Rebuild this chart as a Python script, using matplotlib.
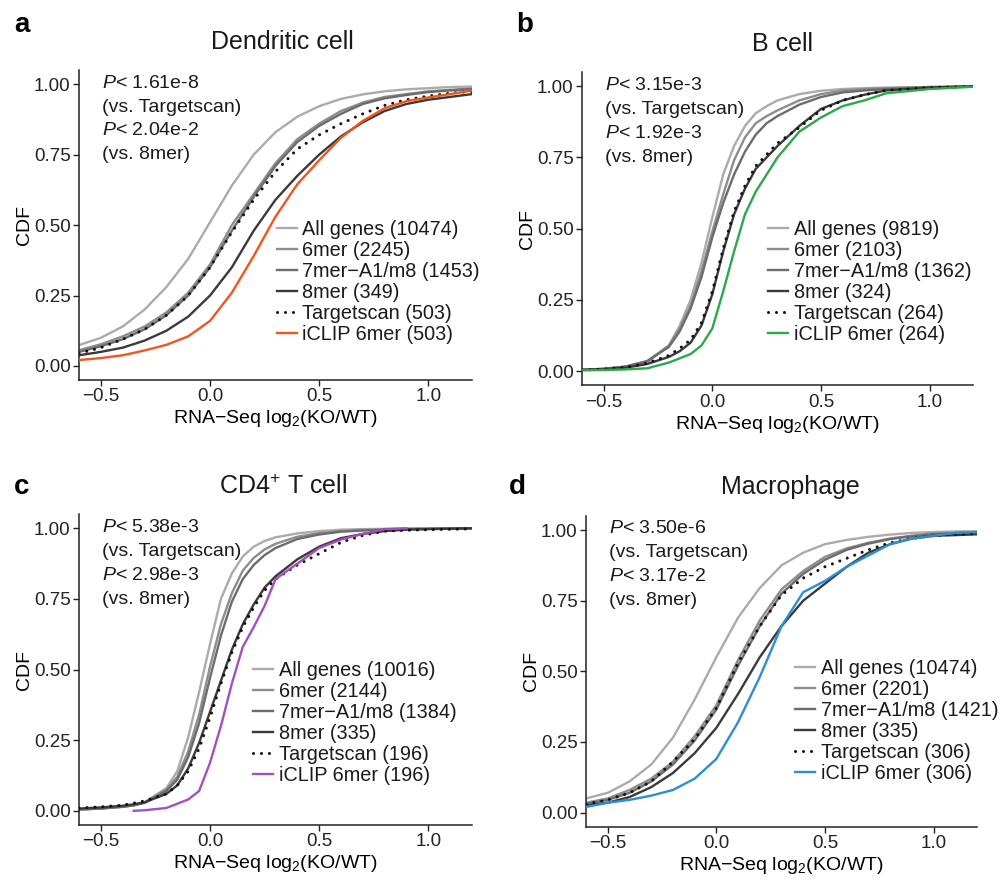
import numpy as np
import matplotlib
matplotlib.use('Agg')
import matplotlib.pyplot as plt

plt.rcParams['font.family'] = ['Liberation Sans', 'DejaVu Sans']
plt.rcParams['mathtext.fontset'] = 'custom'
plt.rcParams['mathtext.rm'] = 'Liberation Sans'
plt.rcParams['mathtext.it'] = 'Liberation Sans:italic'

# ---- data (CDF value at each x) ----
SERIES = ['All genes', '6mer', '7mer\u2212A1/m8', '8mer', 'Targetscan', 'iCLIP 6mer']

# a: dendritic cell
DC_X = [-0.6, -0.5, -0.4, -0.3, -0.2, -0.1, 0.0, 0.1, 0.2, 0.3, 0.4, 0.5, 0.6, 0.7, 0.8, 0.9, 1.0, 1.1, 1.2]
DC_ALL = [0.074, 0.10, 0.14, 0.20, 0.28, 0.38, 0.51, 0.64, 0.75, 0.83, 0.885, 0.922, 0.948, 0.964, 0.975, 0.982, 0.986, 0.99, 0.992]
DC_6MER = [0.056, 0.077, 0.105, 0.14, 0.19, 0.26, 0.36, 0.50, 0.61, 0.72, 0.805, 0.86, 0.905, 0.935, 0.955, 0.965, 0.975, 0.98, 0.985]
DC_7MER = [0.05, 0.07, 0.095, 0.13, 0.18, 0.25, 0.35, 0.48, 0.60, 0.71, 0.795, 0.852, 0.895, 0.93, 0.95, 0.962, 0.972, 0.978, 0.983]
DC_8MER = [0.038, 0.05, 0.065, 0.09, 0.125, 0.175, 0.25, 0.35, 0.48, 0.59, 0.675, 0.75, 0.815, 0.865, 0.905, 0.93, 0.945, 0.955, 0.965]
DC_TS = [0.045, 0.065, 0.095, 0.13, 0.18, 0.25, 0.35, 0.475, 0.59, 0.69, 0.77, 0.82, 0.86, 0.895, 0.925, 0.945, 0.958, 0.968, 0.975]
DC_ICLIP = [0.021, 0.028, 0.038, 0.055, 0.075, 0.105, 0.16, 0.26, 0.39, 0.53, 0.645, 0.73, 0.81, 0.87, 0.915, 0.94, 0.953, 0.965, 0.978]
DC_N = [10474, 2245, 1453, 349, 503, 503]

# b: B cell
B_X = [-0.6, -0.5, -0.4, -0.3, -0.2, -0.15, -0.1, -0.05, 0.0, 0.05, 0.1, 0.15, 0.2, 0.25, 0.3, 0.4, 0.5, 0.6, 0.7, 0.8, 1.0, 1.2]
B_ALL = [0.005, 0.008, 0.015, 0.03, 0.09, 0.16, 0.25, 0.38, 0.54, 0.69, 0.79, 0.86, 0.905, 0.93, 0.95, 0.972, 0.984, 0.99, 0.993, 0.995, 0.997, 0.999]
B_6MER = [0.005, 0.008, 0.016, 0.035, 0.09, 0.15, 0.23, 0.35, 0.49, 0.62, 0.74, 0.82, 0.87, 0.895, 0.915, 0.95, 0.972, 0.985, 0.99, 0.993, 0.997, 0.999]
B_7MER = [0.005, 0.008, 0.016, 0.035, 0.085, 0.14, 0.22, 0.33, 0.47, 0.59, 0.69, 0.77, 0.83, 0.87, 0.895, 0.935, 0.962, 0.978, 0.985, 0.99, 0.996, 0.999]
B_8MER = [0.004, 0.007, 0.012, 0.025, 0.05, 0.07, 0.10, 0.16, 0.27, 0.42, 0.55, 0.64, 0.71, 0.75, 0.79, 0.86, 0.92, 0.95, 0.97, 0.985, 0.995, 0.999]
B_TS = [0.004, 0.007, 0.013, 0.028, 0.055, 0.08, 0.11, 0.17, 0.28, 0.43, 0.56, 0.65, 0.72, 0.76, 0.80, 0.855, 0.915, 0.95, 0.97, 0.985, 0.995, 0.999]
B_ICLIP = [0.003, 0.004, 0.006, 0.01, 0.03, 0.045, 0.06, 0.09, 0.15, 0.28, 0.42, 0.55, 0.63, 0.69, 0.75, 0.84, 0.89, 0.93, 0.95, 0.975, 0.99, 0.998]
B_N = [9819, 2103, 1362, 324, 264, 264]

# c: CD4+ T cell
T_X = [-0.6, -0.5, -0.4, -0.35, -0.3, -0.2, -0.15, -0.1, -0.05, 0.0, 0.05, 0.1, 0.15, 0.2, 0.25, 0.3, 0.4, 0.5, 0.6, 0.7, 0.8, 0.9, 1.0, 1.2]
T_ALL = [0.005, 0.008, 0.015, 0.02, 0.03, 0.08, 0.14, 0.26, 0.42, 0.59, 0.75, 0.84, 0.90, 0.935, 0.955, 0.968, 0.982, 0.99, 0.995, 0.997, 0.998, 0.999, 0.999, 1.0]
T_6MER = [0.005, 0.008, 0.015, 0.02, 0.03, 0.075, 0.12, 0.21, 0.34, 0.51, 0.66, 0.77, 0.85, 0.895, 0.925, 0.945, 0.97, 0.983, 0.99, 0.994, 0.996, 0.998, 0.999, 1.0]
T_7MER = [0.005, 0.008, 0.014, 0.019, 0.028, 0.07, 0.11, 0.19, 0.31, 0.47, 0.62, 0.74, 0.82, 0.87, 0.905, 0.93, 0.962, 0.978, 0.988, 0.992, 0.995, 0.997, 0.998, 1.0]
T_8MER = [0.008, 0.012, 0.018, 0.023, 0.03, 0.06, 0.09, 0.15, 0.24, 0.35, 0.46, 0.57, 0.66, 0.73, 0.79, 0.83, 0.89, 0.935, 0.965, 0.98, 0.99, 0.995, 0.997, 1.0]
T_TS = [0.01, 0.014, 0.02, 0.027, 0.035, 0.06, 0.09, 0.14, 0.22, 0.33, 0.45, 0.56, 0.65, 0.72, 0.78, 0.82, 0.87, 0.91, 0.95, 0.975, 0.99, 0.993, 0.995, 0.998]
T_ICLIP = [None, None, None, 0.0, 0.002, 0.01, 0.025, 0.04, 0.07, 0.17, 0.30, 0.45, 0.58, 0.65, 0.725, 0.82, 0.875, 0.93, 0.96, 0.98, 0.997, 1.0, None, None]
T_N = [10016, 2144, 1384, 335, 196, 196]

# d: macrophage
MAC_X = [-0.6, -0.5, -0.4, -0.3, -0.2, -0.1, 0.0, 0.1, 0.2, 0.3, 0.4, 0.5, 0.6, 0.7, 0.8, 0.9, 1.0, 1.1, 1.2]
MAC_ALL = [0.05, 0.07, 0.11, 0.17, 0.265, 0.40, 0.55, 0.69, 0.795, 0.875, 0.92, 0.95, 0.965, 0.976, 0.984, 0.99, 0.993, 0.995, 0.996]
MAC_6MER = [0.035, 0.05, 0.08, 0.12, 0.18, 0.27, 0.38, 0.54, 0.68, 0.79, 0.855, 0.905, 0.935, 0.955, 0.97, 0.98, 0.988, 0.99, 0.992]
MAC_7MER = [0.03, 0.045, 0.07, 0.11, 0.17, 0.255, 0.365, 0.52, 0.66, 0.775, 0.845, 0.895, 0.93, 0.952, 0.968, 0.978, 0.985, 0.988, 0.99]
MAC_8MER = [0.025, 0.035, 0.055, 0.09, 0.14, 0.21, 0.30, 0.42, 0.55, 0.66, 0.75, 0.81, 0.87, 0.92, 0.95, 0.97, 0.98, 0.982, 0.985]
MAC_TS = [0.03, 0.045, 0.07, 0.11, 0.18, 0.26, 0.37, 0.53, 0.66, 0.77, 0.83, 0.87, 0.90, 0.93, 0.955, 0.97, 0.98, 0.985, 0.988]
MAC_ICLIP = [0.02, 0.035, 0.045, 0.06, 0.08, 0.12, 0.19, 0.32, 0.48, 0.66, 0.78, 0.82, 0.87, 0.91, 0.95, 0.97, 0.98, 0.99, 0.993]
MAC_N = [10474, 2201, 1421, 335, 306, 306]

TITLES = ['Dendritic cell', 'B cell', 'CD4$^{+}$ T cell', 'Macrophage']
LETTERS = ['a', 'b', 'c', 'd']
P_TS = ['1.61e-8', '3.15e-3', '5.38e-3', '3.50e-6']
P_8MER = ['2.04e-2', '1.92e-3', '2.98e-3', '3.17e-2']
ICLIP_COLORS = ['#f0561e', '#2aa84a', '#a34fc0', '#2a8ed8']

GRAYS = ['#ababab', '#8d8d8d', '#6c6c6c', '#3a3a3a', '#111111']

panels = [
    (DC_X, [DC_ALL, DC_6MER, DC_7MER, DC_8MER, DC_TS, DC_ICLIP], DC_N),
    (B_X, [B_ALL, B_6MER, B_7MER, B_8MER, B_TS, B_ICLIP], B_N),
    (T_X, [T_ALL, T_6MER, T_7MER, T_8MER, T_TS, T_ICLIP], T_N),
    (MAC_X, [MAC_ALL, MAC_6MER, MAC_7MER, MAC_8MER, MAC_TS, MAC_ICLIP], MAC_N),
]

# layout (figure fractions)
AX_POS = [[0.079, 0.572, 0.393, 0.349],
          [0.582, 0.566, 0.391, 0.353],
          [0.079, 0.071, 0.393, 0.350],
          [0.586, 0.069, 0.391, 0.350]]
LEG_POS = [(0.504, 0.517), (0.476, 0.528), (0.443, 0.528), (0.535, 0.54)]
TITLE_POS = [(0.282, 0.953), (0.783, 0.951), (0.283, 0.452), (0.790, 0.452)]
LETTER_POS = [(0.014, 0.972), (0.516, 0.972), (0.014, 0.452), (0.509, 0.452)]

fig = plt.figure(figsize=(10, 8.88), dpi=100)

for i, (xs, curves, ns) in enumerate(panels):
    ax = fig.add_axes(AX_POS[i])
    x = np.array(xs, dtype=float)
    handles = []
    for j, vals in enumerate(curves):
        y = np.array(vals, dtype=float)
        label = '%s (%d)' % (SERIES[j], ns[j])
        if j == 4:
            # round dots, like ggplot's dotted linetype
            h, = ax.plot(x, y, color=GRAYS[4], lw=2.2, ls=(0, (0.01, 2.6)),
                         dash_capstyle='round', label=label, zorder=3)
        elif j == 5:
            h, = ax.plot(x, y, color=ICLIP_COLORS[i], lw=1.7, label=label, zorder=4)
        else:
            h, = ax.plot(x, y, color=GRAYS[j], lw=1.7, label=label, zorder=2)
        handles.append(h)

    ax.set_xlim(-0.6, 1.2)
    ax.set_ylim(-0.05, 1.05)
    ax.set_xticks([-0.5, 0.0, 0.5, 1.0])
    ax.set_xticklabels(['\u22120.5', '0.0', '0.5', '1.0'])
    ax.set_yticks([0, 0.25, 0.5, 0.75, 1.0])
    ax.set_yticklabels(['0.00', '0.25', '0.50', '0.75', '1.00'])
    for s in ['top', 'right']:
        ax.spines[s].set_visible(False)
    for s in ['left', 'bottom']:
        ax.spines[s].set_linewidth(1.1)
        ax.spines[s].set_color('#222222')
    ax.tick_params(labelsize=13.5, colors='#222222', length=4, width=1.0, pad=2)
    ax.set_xlabel('RNA\u2212Seq log$_2$(KO/WT)', fontsize=14, labelpad=2)
    ax.set_ylabel('CDF', fontsize=14, labelpad=1)

    # p-values
    lines = ['$P$< %s' % P_TS[i], '(vs. Targetscan)', '$P$< %s' % P_8MER[i], '(vs. 8mer)']
    for k, t in enumerate(lines):
        ax.text(0.058, 0.958 - k * 0.077, t, transform=ax.transAxes,
                fontsize=14, va='center', ha='left', color='#1a1a1a')

    leg = ax.legend(handles=handles, loc='upper left', bbox_to_anchor=LEG_POS[i],
                    frameon=False, fontsize=14.3, handlelength=1.0, handletextpad=0.28,
                    labelspacing=0.1, borderpad=0, borderaxespad=0)
    for t in leg.get_texts():
        t.set_color('#1a1a1a')

    fig.text(TITLE_POS[i][0], TITLE_POS[i][1], TITLES[i], fontsize=18,
             ha='center', va='center', color='#1a1a1a')
    fig.text(LETTER_POS[i][0], LETTER_POS[i][1], LETTERS[i], fontsize=20,
             fontweight='bold', ha='left', va='center')

fig.savefig('out.png', dpi=100)
